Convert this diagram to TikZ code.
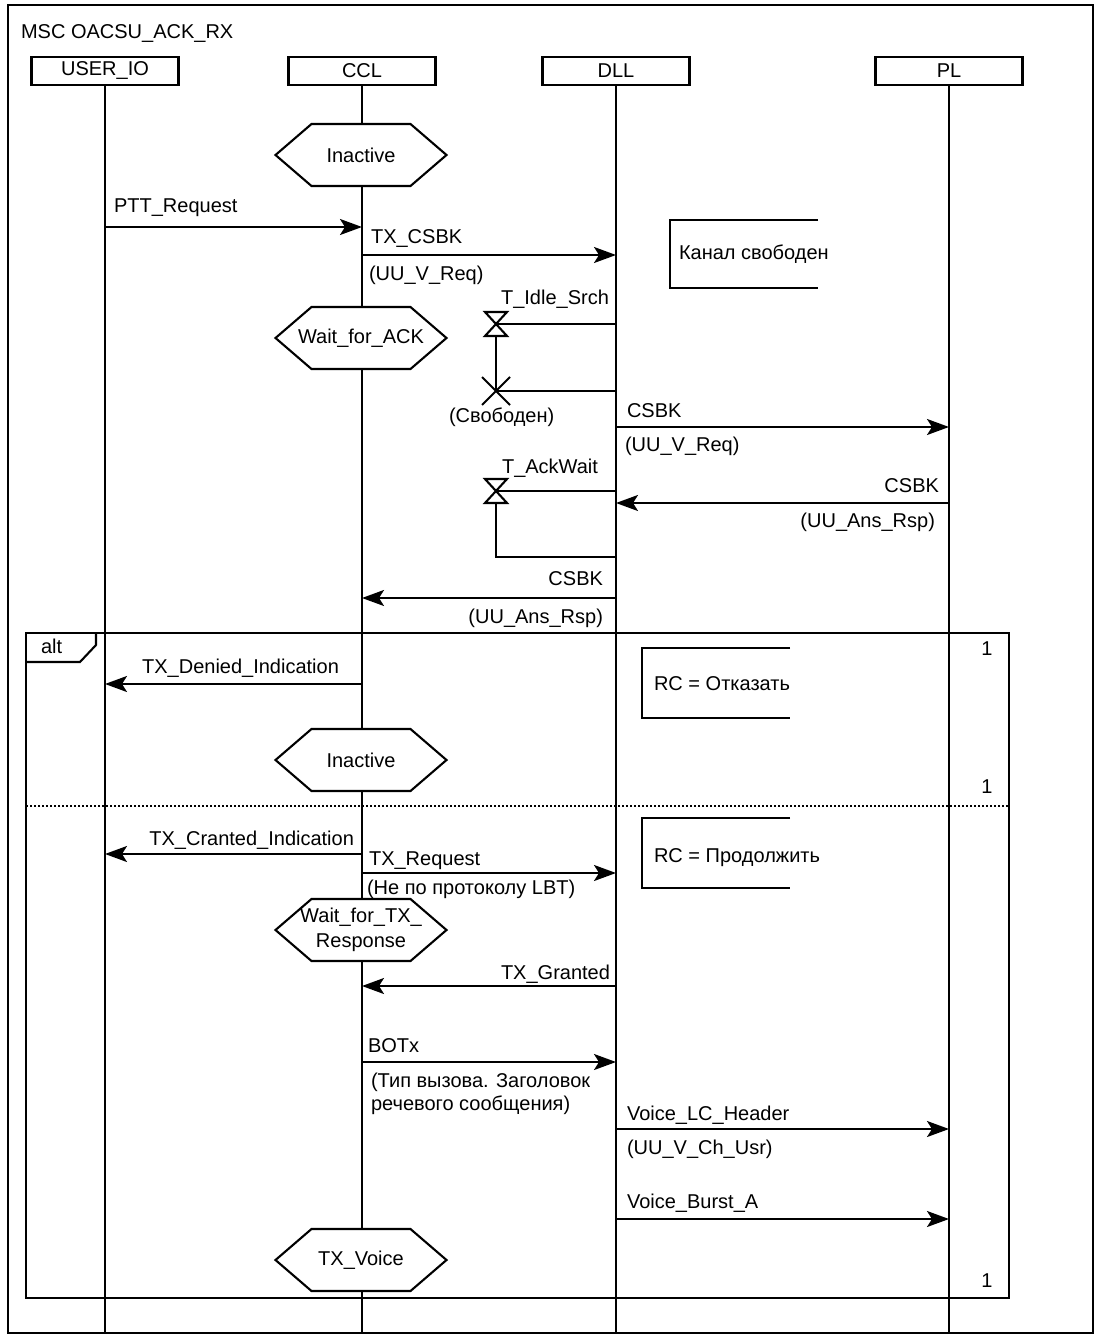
\documentclass[tikz,border=0pt]{standalone}
\usepackage{fontspec}
\setmainfont{Liberation Sans}
\usetikzlibrary{arrows.meta}
\newcommand\fs{\fontsize{20}{25}\selectfont}
\newcommand\mscstate[4]{%
  \draw[hexa, shift={(#2,#3)}] (-85.5,0) -- (-49.5,-31) -- (49.5,-31) -- (85.5,0) -- (49.5,31) -- (-49.5,31) -- cycle;
  \node[txt, align=center] (#1) at (#2,#3) {#4};}
\begin{document}
\begin{tikzpicture}[x=1pt,y=-1pt, line width=2.1pt,
  txt/.style={inner sep=0pt, font=\fs},
  headbox/.style={draw, line width=2.1pt, minimum width=147pt, minimum height=28pt, inner sep=0pt, font=\fs},
  msg/.style={-{Stealth[length=22pt,width=16pt,inset=5pt]}, line width=2.1pt},
  life/.style={line width=2.1pt},
  hexa/.style={draw, fill=white, line width=2.1pt},
  cond/.style={line width=2.1pt},
  sep/.style={line width=1.6pt, dash pattern=on 2pt off 2pt}]
\useasboundingbox (0,0) rectangle (1102,1338);
\fill[white] (0,0) rectangle (1102,1338);
% outer frame
\draw (8,5) rectangle (1093,1333);
\node[txt, anchor=base west] (title) at (20,38) {MSC OACSU\_ACK\_RX};
% heads
\node[headbox] (uio) at (105,71) {USER\_IO};
\node[headbox] (ccl) at (362,71) {CCL};
\node[headbox] (dll) at (616,71) {DLL};
\node[headbox] (pl) at (949,71) {PL};
\coordinate (bot) at (0,1333);
\draw[life] (uio.south) -- (uio.south |- bot);
\draw[life] (ccl.south) -- (ccl.south |- bot);
\draw[life] (dll.south) -- (dll.south |- bot);
\draw[life] (pl.south) -- (pl.south |- bot);
% alt frame
\draw (26,633) rectangle (1009,1298);
\draw (26,662) -- (80,662) -- (96,645) -- (96,633);
\node[txt, anchor=base west] (alt) at (40,653) {alt};
\node[txt, anchor=base] (one1) at (987,655) {1};
\node[txt, anchor=base] (one2) at (987,793) {1};
\node[txt, anchor=base] (one3) at (987,1287) {1};
\draw[sep] (26,806) -- (1009,806);
% PTT_Request
\coordinate (m1a) at (105,227); \coordinate (m1b) at (362,227);
\draw[msg] (m1a) -- (m1b);
\node[txt, anchor=base west] (l1) at (113,212) {PTT\_Request};
% TX_CSBK
\coordinate (m2a) at (362,255); \coordinate (m2b) at (616,255);
\draw[msg] (m2a) -- (m2b);
\node[txt, anchor=base west] (l2) at (370,243) {TX\_CSBK};
\node[txt, anchor=base west] (l2b) at (368,280) {(UU\_V\_Req)};
% condition Kanal svoboden
\draw[cond] (818,220) -- (670,220) -- (670,288) -- (818,288);
\node[txt, anchor=base west] (c1) at (678,259) {Канал свободен};
% T_Idle_Srch timer
\coordinate (t1a) at (616,324); \coordinate (t1b) at (496,324);
\coordinate (t1c) at (496,391); \coordinate (t1d) at (616,391);
\draw (t1a) -- (t1b) -- (t1c) -- (t1d);
\draw[fill=white] (485,312) -- (507,312) -- (485,336) -- (507,336) -- cycle;
\draw (482,377) -- (510,405) (510,377) -- (482,405);
\node[txt, anchor=base west] (t1l) at (500,304) {T\_Idle\_Srch};
\node[txt, anchor=base west] (t1r) at (448,422) {(Свободен)};
% CSBK DLL->PL
\coordinate (m3a) at (616,427); \coordinate (m3b) at (949,427);
\draw[msg] (m3a) -- (m3b);
\node[txt, anchor=base west] (l3) at (626,417) {CSBK};
\node[txt, anchor=base west] (l3b) at (624,451) {(UU\_V\_Req)};
% T_AckWait timer
\coordinate (t2a) at (616,491); \coordinate (t2b) at (496,491);
\coordinate (t2c) at (496,557); \coordinate (t2d) at (616,557);
\draw (t2a) -- (t2b) -- (t2c) -- (t2d);
\draw[fill=white] (485,479) -- (507,479) -- (485,503) -- (507,503) -- cycle;
\node[txt, anchor=base west] (t2l) at (501,473) {T\_AckWait};
% CSBK PL->DLL
\coordinate (m4a) at (949,503); \coordinate (m4b) at (616,503);
\draw[msg] (m4a) -- (m4b);
\node[txt, anchor=base east] (l4) at (940,492) {CSBK};
\node[txt, anchor=base east] (l4b) at (936,527) {(UU\_Ans\_Rsp)};
% CSBK DLL->CCL
\coordinate (m5a) at (616,598); \coordinate (m5b) at (362,598);
\draw[msg] (m5a) -- (m5b);
\node[txt, anchor=base east] (l5) at (604,585) {CSBK};
\node[txt, anchor=base east] (l5b) at (604,623) {(UU\_Ans\_Rsp)};
% TX_Denied_Indication
\coordinate (m6a) at (362,684); \coordinate (m6b) at (105,684);
\draw[msg] (m6a) -- (m6b);
\node[txt, anchor=base east] (l6) at (340,673) {TX\_Denied\_Indication};
% RC = Otkazat
\draw[cond] (790,648) -- (642,648) -- (642,718) -- (790,718);
\node[txt, anchor=base west] (c2) at (653,690) {RC = Отказать};
% TX_Cranted_Indication
\coordinate (m7a) at (362,854); \coordinate (m7b) at (105,854);
\draw[msg] (m7a) -- (m7b);
\node[txt, anchor=base east] (l7) at (355,845) {TX\_Cranted\_Indication};
% TX_Request
\coordinate (m8a) at (362,873); \coordinate (m8b) at (616,873);
\draw[msg] (m8a) -- (m8b);
\node[txt, anchor=base west] (l8) at (368,865) {TX\_Request};
\node[txt, anchor=base west] (l8b) at (366,894) {(Не по протоколу LBT)};
% RC = Prodolzhit
\draw[cond] (790,818) -- (642,818) -- (642,888) -- (790,888);
\node[txt, anchor=base west] (c3) at (653,862) {RC = Продолжить};
% TX_Granted
\coordinate (m9a) at (616,986); \coordinate (m9b) at (362,986);
\draw[msg] (m9a) -- (m9b);
\node[txt, anchor=base east] (l9) at (611,979) {TX\_Granted};
% BOTx
\coordinate (m10a) at (362,1062); \coordinate (m10b) at (616,1062);
\draw[msg] (m10a) -- (m10b);
\node[txt, anchor=base west] (l10) at (367,1052) {BOTx};
\node[txt, anchor=base west] (l10b) at (370,1087) {(Тип вызова. Заголовок};
\node[txt, anchor=base west] (l10c) at (370,1110) {речевого сообщения)};
% Voice_LC_Header
\coordinate (m11a) at (616,1129); \coordinate (m11b) at (949,1129);
\draw[msg] (m11a) -- (m11b);
\node[txt, anchor=base west] (l11) at (626,1120) {Voice\_LC\_Header};
\node[txt, anchor=base west] (l11b) at (626,1154) {(UU\_V\_Ch\_Usr)};
% Voice_Burst_A
\coordinate (m12a) at (616,1219); \coordinate (m12b) at (949,1219);
\draw[msg] (m12a) -- (m12b);
\node[txt, anchor=base west] (l12) at (626,1208) {Voice\_Burst\_A};
% states
\mscstate{s1}{361}{155}{Inactive}
\mscstate{s2}{361}{338}{Wait\_for\_ACK}
\mscstate{s3}{361}{760}{Inactive}
\mscstate{s4}{361}{930}{Wait\_for\_TX\_\\Response}
\mscstate{s5}{361}{1260}{TX\_Voice}
\end{tikzpicture}
\end{document}
